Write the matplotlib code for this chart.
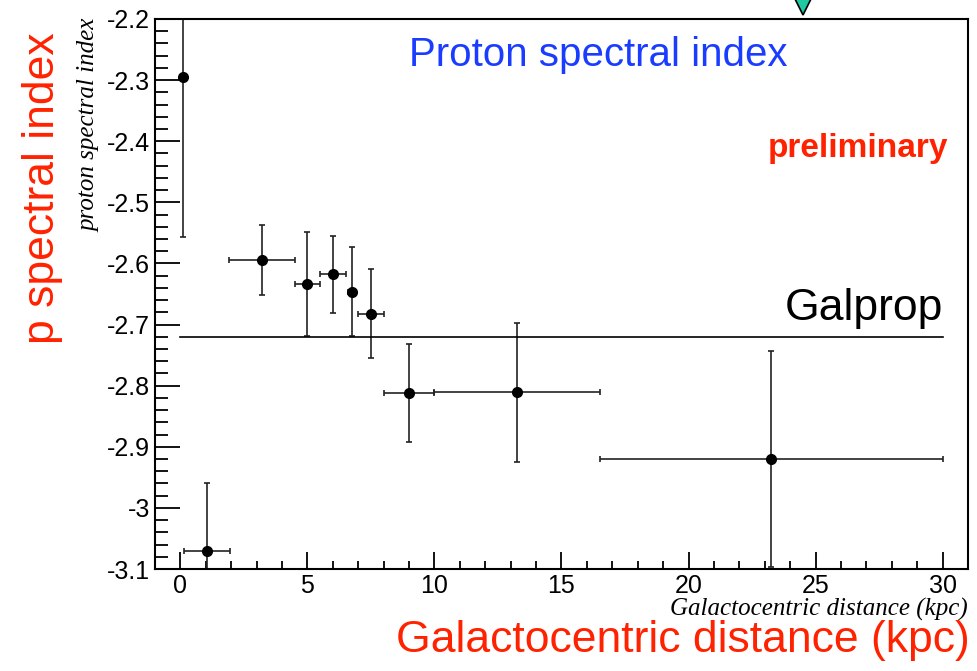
import numpy as np
import matplotlib.pyplot as plt
from matplotlib.ticker import MultipleLocator

# measured proton spectral index vs galactocentric distance
r_kpc = [0.1, 1.05, 3.2, 5.0, 6.0, 6.75, 7.5, 9.0, 13.25, 23.25]
r_err = [0.0, 0.9, 1.3, 0.5, 0.5, 0.17, 0.5, 1.0, 3.25, 6.75]
index = [-2.295, -3.071, -2.594, -2.633, -2.618, -2.646, -2.682, -2.812, -2.811, -2.920]
index_err = [0.262, 0.112, 0.057, 0.085, 0.063, 0.073, 0.073, 0.080, 0.114, 0.177]

galprop_index = -2.72
galprop_range = [0, 30]
marker_pos = (24.5, -2.178)

red = '#ff2200'

fig = plt.figure(figsize=(9.77, 6.71), dpi=100)
ax = fig.add_axes([0.1586, 0.152, 0.8322, 0.8197])

ax.errorbar(r_kpc, index, xerr=r_err, yerr=index_err, fmt='o', color='black',
            ecolor='#222222', elinewidth=1.2, capsize=2.5, capthick=1.2, markersize=7)
ax.plot(galprop_range, [galprop_index, galprop_index], color='black', lw=1.2)

ax.plot([marker_pos[0]], [marker_pos[1]], marker='v', markersize=13, color='#1fc8a0',
        markeredgecolor='black', markeredgewidth=1.2, clip_on=False, zorder=5)

ax.set_xlim(-1, 31)
ax.set_ylim(-3.1, -2.2)
ax.xaxis.set_major_locator(MultipleLocator(5))
ax.xaxis.set_minor_locator(MultipleLocator(1))
ax.yaxis.set_minor_locator(MultipleLocator(0.02))
ax.set_yticks(np.arange(-3.1, -2.19, 0.1))
ax.set_yticklabels(['-3.1', '-3', '-2.9', '-2.8', '-2.7', '-2.6', '-2.5', '-2.4', '-2.3', '-2.2'])

ax.tick_params(which='both', direction='in', top=False, right=False,
               labelsize=18, width=1.3, color='black')
ax.tick_params(axis='y', which='major', length=18)
ax.tick_params(axis='y', which='minor', length=9)
ax.tick_params(axis='x', which='major', length=12)
ax.tick_params(axis='x', which='minor', length=6)
for lab in ax.get_xticklabels() + ax.get_yticklabels():
    lab.set_family('Liberation Sans')
for s in ax.spines.values():
    s.set_linewidth(1.5)

ax.set_xlabel('Galactocentric distance (kpc)', loc='right', family='Liberation Serif',
              style='italic', fontsize=18, labelpad=0)
ax.set_ylabel('proton spectral index', loc='top', family='Liberation Serif',
              style='italic', fontsize=18, labelpad=5)

ax.text(0.545, 0.935, 'Proton spectral index', transform=ax.transAxes, ha='center',
        va='center', color='#1a3cff', fontsize=29, family='Liberation Sans')
ax.text(0.865, 0.765, 'preliminary', transform=ax.transAxes, ha='center', va='center',
        color=red, fontsize=24, weight='bold', family='Liberation Sans')
ax.text(0.97, 0.437, 'Galprop', transform=ax.transAxes, ha='right', va='bottom',
        fontsize=32, family='Liberation Sans')

fig.text(0.043, 0.72, 'p spectral index', rotation=90, ha='center', va='center',
         color=red, fontsize=32, family='Liberation Sans')
fig.text(0.993, 0.045, 'Galactocentric distance (kpc)', ha='right', va='center',
         color=red, fontsize=32, family='Liberation Sans')

fig.savefig('out.png', dpi=100)
